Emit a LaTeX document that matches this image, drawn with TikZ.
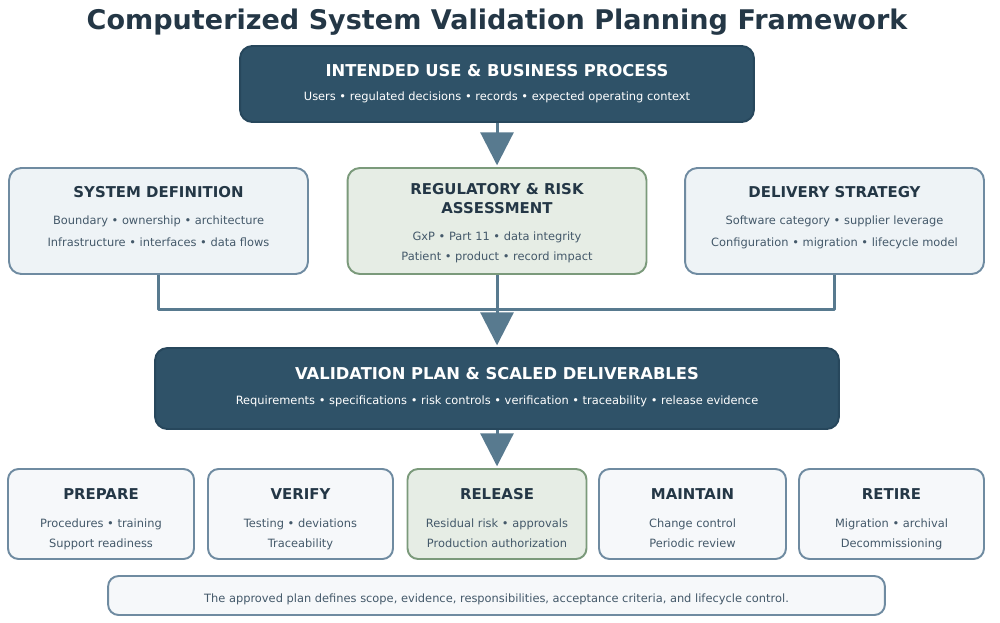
\documentclass[tikz,border=0pt]{standalone}
\usepackage{fontspec}
\setmainfont{DejaVu Sans}
\usetikzlibrary{arrows.meta,positioning}
\definecolor{navy}{HTML}{2F5268}
\definecolor{navyline}{HTML}{27475C}
\definecolor{inkdark}{HTML}{243746}
\definecolor{inkbody}{HTML}{44596A}
\definecolor{bluefill}{HTML}{EEF3F6}
\definecolor{paleline}{HTML}{6F8BA1}
\definecolor{greyfill}{HTML}{F6F8FA}
\definecolor{greenfill}{HTML}{E6EDE5}
\definecolor{greenline}{HTML}{7B9A7B}
\definecolor{flowcol}{HTML}{587A8F}
\tikzset{
  darkbox/.style={draw=navyline, fill=navy, line width=1.1pt, rounded corners=7pt, inner sep=0pt},
  inbox/.style={draw=paleline, fill=bluefill, line width=1.1pt, rounded corners=7pt, inner sep=0pt,
    minimum width=5.98cm, minimum height=2.12cm},
  riskbox/.style={inbox, draw=greenline, fill=greenfill},
  phase/.style={draw=paleline, fill=greyfill, line width=1.1pt, rounded corners=6pt, inner sep=0pt,
    minimum height=1.8cm},
  gate/.style={phase, draw=greenline, fill=greenfill},
  hd/.style={anchor=base, inner sep=0pt, font=\fontsize{8.5}{10}\selectfont\bfseries, text=inkdark},
  hdw/.style={hd, font=\fontsize{9.3}{11}\selectfont\bfseries, text=white},
  txt/.style={anchor=base, inner sep=0pt, font=\fontsize{6.5}{8}\selectfont, text=inkbody},
  txtw/.style={txt, text=white},
  link/.style={draw=flowcol, line width=1.7pt},
  flow/.style={link, -{Triangle[width=18.7pt,length=18.7pt]}, shorten >=1pt},
  every picture/.style={line cap=butt, line join=round}
}
\begin{document}
\begin{tikzpicture}[x=0.02cm,y=-0.02cm]
  \useasboundingbox (0,0) rectangle (1000,622);
  \node[anchor=base, inner sep=0pt, font=\fontsize{15.4}{18}\selectfont\bfseries, text=inkdark] (title) at (497,30) {Computerized System Validation Planning Framework};

  % intended use
  \node[darkbox, minimum width=10.28cm, minimum height=1.52cm] (use) at (497,84) {};
  \node[hdw] (useh) at (497,76) {INTENDED USE \& BUSINESS PROCESS};
  \node[txtw] (uset) at (497,100) {Users • regulated decisions • records • expected operating context};

  % inputs
  \node[inbox] (sysdef) at (158.5,221) {};
  \node[hd] (sysdefh) at (158.5,197) {SYSTEM DEFINITION};
  \node[txt] (sysdef1) at (158.5,224) {Boundary • ownership • architecture};
  \node[txt] (sysdef2) at (158.5,246) {Infrastructure • interfaces • data flows};

  \node[riskbox] (risk) at (497,221) {};
  \node[hd] (riskh1) at (497,194.5) {REGULATORY \& RISK};
  \node[hd] (riskh2) at (497,213) {ASSESSMENT};
  \node[txt] (risk1) at (497,240) {GxP • Part 11 • data integrity};
  \node[txt] (risk2) at (497,260) {Patient • product • record impact};

  \node[inbox] (deliv) at (834.5,221) {};
  \node[hd] (delivh) at (834.5,197) {DELIVERY STRATEGY};
  \node[txt] (deliv1) at (834.5,224) {Software category • supplier leverage};
  \node[txt] (deliv2) at (834.5,246) {Configuration • migration • lifecycle model};

  % plan
  \node[darkbox, minimum width=13.68cm, minimum height=1.62cm] (plan) at (497,388.5) {};
  \node[hdw] (planh) at (497,379) {VALIDATION PLAN \& SCALED DELIVERABLES};
  \node[txtw] (plant) at (497,404) {Requirements • specifications • risk controls • verification • traceability • release evidence};

  % lifecycle phases
  \node[phase, minimum width=3.72cm] (prep) at (101,514) {};
  \node[hd] (preph) at (101,499) {PREPARE};
  \node[txt] (prep1) at (101,527) {Procedures • training};
  \node[txt] (prep2) at (101,547) {Support readiness};

  \node[phase, minimum width=3.7cm] (verif) at (300.5,514) {};
  \node[hd] (verifh) at (300.5,499) {VERIFY};
  \node[txt] (verif1) at (300.5,527) {Testing • deviations};
  \node[txt] (verif2) at (300.5,547) {Traceability};

  \node[gate, minimum width=3.58cm] (rel) at (497,514) {};
  \node[hd] (relh) at (497,499) {RELEASE};
  \node[txt] (rel1) at (497,527) {Residual risk • approvals};
  \node[txt] (rel2) at (497,547) {Production authorization};

  \node[phase, minimum width=3.74cm] (maint) at (692.5,514) {};
  \node[hd] (mainth) at (692.5,499) {MAINTAIN};
  \node[txt] (maint1) at (692.5,527) {Change control};
  \node[txt] (maint2) at (692.5,547) {Periodic review};

  \node[phase, minimum width=3.7cm] (retire) at (891.5,514) {};
  \node[hd] (retireh) at (891.5,499) {RETIRE};
  \node[txt] (retire1) at (891.5,527) {Migration • archival};
  \node[txt] (retire2) at (891.5,547) {Decommissioning};

  \node[phase, minimum width=15.54cm, minimum height=0.78cm] (note) at (496.5,595.5) {};
  \node[txt] (notet) at (496.5,602) {The approved plan defines scope, evidence, responsibilities, acceptance criteria, and lifecycle control.};

  % connectors
  \draw[flow] (use.south) -- (risk.north);
  \draw[link] (sysdef.south) -- ++(0,35) -| (deliv.south);
  \draw[flow] (risk.south) -- (plan.north);
  \draw[flow] (plan.south) -- (rel.north);
\end{tikzpicture}
\end{document}
